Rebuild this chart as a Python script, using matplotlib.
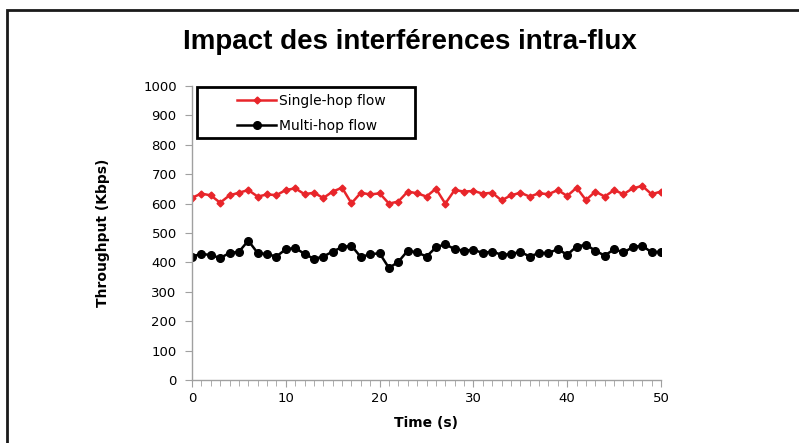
import matplotlib
matplotlib.use("Agg")
import matplotlib.pyplot as plt
from matplotlib.patches import Rectangle

# time in seconds
time_s = list(range(51))

single_hop = [620, 634, 628, 603, 628, 637, 646, 624, 631, 629,
              646, 652, 632, 637, 619, 641, 654, 601, 637, 631,
              635, 600, 607, 641, 635, 624, 651, 600, 646, 641,
              643, 634, 637, 611, 628, 637, 624, 635, 632, 646,
              626, 654, 612, 641, 624, 646, 632, 652, 660, 632,
              641]

multi_hop = [420, 429, 425, 415, 432, 436, 474, 432, 428, 420,
             445, 449, 429, 412, 420, 437, 452, 457, 418, 428,
             431, 381, 402, 440, 434, 420, 451, 462, 445, 440,
             443, 432, 437, 426, 428, 436, 420, 432, 432, 445,
             426, 454, 460, 440, 423, 445, 434, 452, 457, 434,
             437]

y_ticks = list(range(0, 1001, 100))
x_ticks = [0, 10, 20, 30, 40, 50]

W, H = 799, 443
fig = plt.figure(figsize=(W / 100, H / 100), dpi=100)
fig.patch.set_facecolor("white")

# outer chart frame (cut off on right and bottom like the screenshot)
fig.patches.append(Rectangle((7 / W, -0.05), 1.1, 1.05 - 10 / H,
                             transform=fig.transFigure, fill=False,
                             edgecolor="#1a1a1a", linewidth=2))

ax = fig.add_axes([192 / W, 1 - 380 / H, (661 - 192) / W, (380 - 86) / H])

ax.plot(time_s, single_hop, color="#e8252a", marker="D", markersize=3.5,
        linewidth=1.8, label="Single-hop flow")
ax.plot(time_s, multi_hop, color="black", marker="o", markersize=5.5,
        linewidth=1.8, label="Multi-hop flow")

ax.set_xlim(0, 50)
ax.set_ylim(0, 1000)
ax.set_yticks(y_ticks)
ax.set_xticks(x_ticks)
ax.set_xticks(time_s, minor=True)

for s in ["top", "right"]:
    ax.spines[s].set_visible(False)
for s in ["left", "bottom"]:
    ax.spines[s].set_color("#a0a0a0")
    ax.spines[s].set_linewidth(1)

ax.tick_params(axis="both", which="major", length=5, color="#a0a0a0",
               labelsize=9.5, labelcolor="black")
ax.tick_params(axis="x", which="minor", length=4, color="#a0a0a0")
ax.tick_params(axis="y", which="major", pad=6)

ax.set_xlabel("Time (s)", fontsize=10, fontweight="bold", labelpad=8)
ax.set_ylabel("Throughput (Kbps)", fontsize=10, fontweight="bold", labelpad=24)

fig.text(410 / W, 1 - 42 / H, "Impact des interférences intra-flux",
         ha="center", va="center", fontsize=20, fontweight="bold",
         family="Liberation Sans")

# legend box drawn separately, as in the original (wider than its content)
fig.patches.append(Rectangle((197 / W, 1 - 138 / H), (415 - 197) / W, (138 - 87) / H,
                             transform=fig.transFigure, fill=False,
                             edgecolor="black", linewidth=2, zorder=5))
leg = fig.legend(loc="upper left", bbox_to_anchor=(226 / W, 1 - 83 / H),
                 fontsize=10, frameon=False, borderpad=0.3,
                 handlelength=2.8, handletextpad=0.2, labelspacing=0.75)

fig.savefig("out.png", dpi=100)
